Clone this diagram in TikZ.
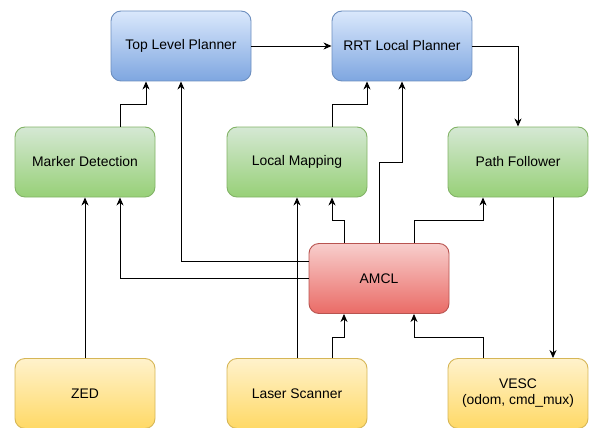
\documentclass[tikz,border=0pt]{standalone}
\usepackage{fontspec}
\setmainfont{Liberation Sans}
\usepackage{tikz}
\usepackage{xcolor}
\usetikzlibrary{arrows.meta, positioning}
\definecolor{blueTop}{HTML}{DAE8FC}
\definecolor{blueBot}{HTML}{7EA6E0}
\definecolor{blueLine}{HTML}{6C8EBF}
\definecolor{greenTop}{HTML}{D5E8D4}
\definecolor{greenBot}{HTML}{97D077}
\definecolor{greenLine}{HTML}{82B366}
\definecolor{redTop}{HTML}{F8CECC}
\definecolor{redBot}{HTML}{EA6B66}
\definecolor{redLine}{HTML}{B85450}
\definecolor{yellowTop}{HTML}{FFF2CC}
\definecolor{yellowBot}{HTML}{FFD966}
\definecolor{yellowLine}{HTML}{D6B656}
\tikzstyle{block}     = [rectangle, rounded corners=10pt, minimum width=140pt, minimum height=70pt,
                         text centered, align=center, line width=0.9pt, font=\fontsize{13.9}{16}\selectfont]
\tikzstyle{planner}   = [block, draw=blueLine, top color=blueTop, bottom color=blueBot]
\tikzstyle{perceive}  = [block, draw=greenLine, top color=greenTop, bottom color=greenBot]
\tikzstyle{localize}  = [block, draw=redLine, top color=redTop, bottom color=redBot]
\tikzstyle{sensor}    = [block, draw=yellowLine, top color=yellowTop, bottom color=yellowBot]
\tikzstyle{arrow}     = [-{Stealth[length=8pt, width=7pt, inset=2.5pt]}, line width=0.9pt]

\begin{document}
\begin{tikzpicture}[x=1pt, y=1pt]
    \useasboundingbox (0,0) rectangle (589,-428);
    \node (tlp) [planner] at (181,-46) {Top Level Planner};
    \node (rrt) [planner] at (402,-46) {RRT Local Planner};
    \node (marker) [perceive] at (85,-162) {Marker Detection};
    \node (mapping) [perceive] at (297,-162) {Local Mapping};
    \node (follower) [perceive] at (518,-162) {Path Follower};
    \node (amcl) [localize] at (379,-278.5) {AMCL};
    \node (zed) [sensor] at (85,-393.5) {ZED};
    \node (laser) [sensor] at (297,-393.5) {Laser Scanner};
    \node (vesc) [sensor] at (518,-393.5) {VESC\\(odom, cmd\_mux)};

    \draw[arrow] (tlp) -- (rrt);
    \draw[arrow] (rrt.east) -| (follower.north);
    \draw[arrow] ([xshift=35pt]marker.north) -- ++(0,22) -| ([xshift=-35pt]tlp.south);
    \draw[arrow] ([yshift=17.5pt]amcl.west) -| (tlp.south);
    \draw[arrow] (amcl.west) -| ([xshift=35pt]marker.south);
    \draw[arrow] (zed) -- (marker);
    \draw[arrow] (laser) -- (mapping);
    \draw[arrow] ([xshift=35pt]laser.north) -- ++(0,21) -| ([xshift=-35pt]amcl.south);
    \draw[arrow] ([xshift=-35pt]amcl.north) -- ++(0,23) -| ([xshift=35pt]mapping.south);
    \draw[arrow] ([xshift=35pt]mapping.north) -- ++(0,22) -| ([xshift=-35pt]rrt.south);
    \draw[arrow] (amcl.north) -- ++(0,81) -| (rrt.south);
    \draw[arrow] ([xshift=35pt]amcl.north) -- ++(0,23) -| ([xshift=-35pt]follower.south);
    \draw[arrow] ([xshift=35pt]follower.south) -- ([xshift=35pt]vesc.north);
    \draw[arrow] ([xshift=-35pt]vesc.north) -- ++(0,21) -| ([xshift=35pt]amcl.south);
\end{tikzpicture}
\end{document}
